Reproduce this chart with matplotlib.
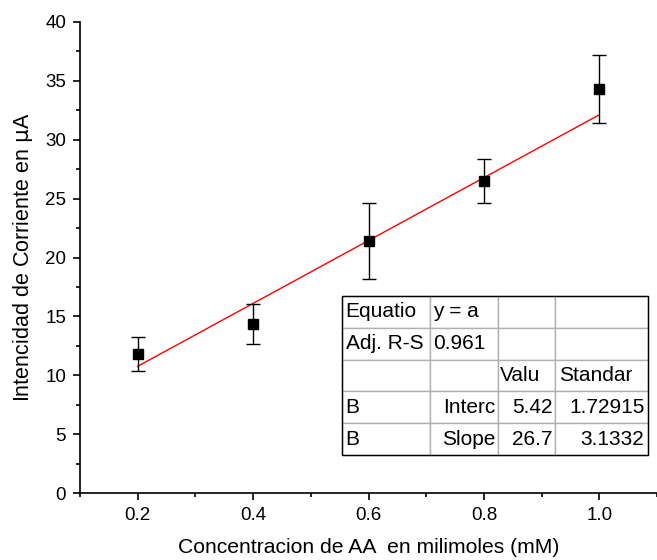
import matplotlib.pyplot as plt
import numpy as np
from matplotlib.ticker import MultipleLocator
from matplotlib.patches import Rectangle

plt.rcParams['font.family'] = ['Liberation Sans', 'DejaVu Sans']

conc = [0.2, 0.4, 0.6, 0.8, 1.0]
current = [11.8, 14.35, 21.4, 26.5, 34.3]
err = [1.45, 1.7, 3.2, 1.9, 2.9]

intercept = 5.42
slope = 26.7

table_rows = [
    ['Equatio', 'y = a', '', ''],
    ['Adj. R-S', '0.961', '', ''],
    ['', '', 'Valu', 'Standar'],
    ['B', 'Interc', '5.42', '1.72915'],
    ['B', 'Slope', '26.7', '3.1332'],
]

fig = plt.figure(figsize=(6.57, 5.6), dpi=100)
ax = fig.add_axes([80 / 657, 67 / 560, 577 / 657, 471 / 560])

ax.errorbar(conc, current, yerr=err, fmt='s', color='black', ms=6.5,
            ecolor='black', elinewidth=1, capsize=5, capthick=1, zorder=3)
xf = np.array([conc[0], conc[-1]])
ax.plot(xf, intercept + slope * xf, color='red', lw=1, zorder=2)

ax.set_xlim(0.1, 1.1)
ax.set_ylim(0, 40)
ax.xaxis.set_minor_locator(MultipleLocator(0.1))
ax.yaxis.set_major_locator(MultipleLocator(5))
ax.yaxis.set_minor_locator(MultipleLocator(2.5))
ax.set_xticks(conc)
ax.set_xticklabels([f'{c:.1f}' for c in conc])
ax.spines['top'].set_visible(False)
ax.spines['right'].set_visible(False)
for s in ['left', 'bottom']:
    ax.spines[s].set_linewidth(1.2)
ax.tick_params(which='major', direction='out', length=5, width=1.2,
               labelsize=13.5, pad=5)
ax.tick_params(which='minor', direction='out', length=3, width=1.2)
ax.set_xlabel('Concentracion de AA  en milimoles (mM)', fontsize=15.2, labelpad=10)
ax.set_ylabel('Intencidad de Corriente en $\\mathrm{\\mu}$A', fontsize=15.5, labelpad=7)

# fit-results table
tx, ty, tw, th = 262 / 577, 38 / 471, 306 / 577, 159 / 471
col_w = [88, 68, 57, 93]
col_w = [w / sum(col_w) for w in col_w]
tbl = ax.table(cellText=table_rows, colWidths=col_w, bbox=[tx, ty, tw, th],
               cellLoc='left')
tbl.auto_set_font_size(False)
tbl.set_fontsize(15)
right_cells = {(3, 1), (4, 1), (3, 2), (4, 2), (3, 3), (4, 3)}
for (r, c), cell in tbl.get_celld().items():
    cell.set_edgecolor('#b0b0b0')
    cell.set_linewidth(1)
    cell.PAD = 0.04
    if (r, c) in right_cells:
        cell._loc = 'right'
        cell.get_text().set_ha('right')
ax.add_patch(Rectangle((tx, ty), tw, th, transform=ax.transAxes, fill=False,
                       edgecolor='black', lw=1, zorder=10, clip_on=False))

fig.savefig('out.png', dpi=100)
